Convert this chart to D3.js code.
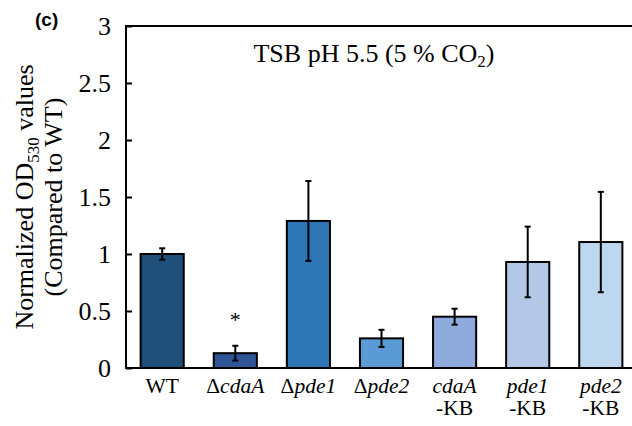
<html>
<head>
<script src="https://d3js.org/d3.v7.min.js"></script>
<style>
body { margin: 0; background: #fff; }
text { font-family: 'Liberation Serif', 'Times New Roman', serif; fill: #000; }
</style>
</head>
<body>
<svg></svg>
<script>

var width = 632;
var height = 426;

// strain names, values and error bars
var strains = ["WT", "ΔcdaA", "Δpde1", "Δpde2", "cdaA-KB", "pde1-KB", "pde2-KB"];
var values = [1.00, 0.13, 1.29, 0.26, 0.45, 0.93, 1.105];
var errors = [0.05, 0.065, 0.35, 0.075, 0.07, 0.31, 0.44];
var colors = ["#1f4e79", "#2f5597", "#2e75b6", "#5b9bd5", "#8faadc", "#b4c7e7", "#bdd7ee"];
var yTicks = [0, 0.5, 1, 1.5, 2, 2.5, 3];
var yTickLabels = ["0", "0.5", "1", "1.5", "2", "2.5", "3"];

var plotLeft = 126, plotTop = 26, plotBottom = 368;

var svg = d3.select("svg").attr("width", width).attr("height", height);

var xScale = d3.scaleBand().domain(strains).range([plotLeft, 637]).paddingInner(0.41).paddingOuter(0.2);
var yScale = d3.scaleLinear().domain([0, 3]).range([plotBottom, plotTop]);
var midY = (plotTop + plotBottom) / 2;

// bars
svg.selectAll("rect.bar").data(strains).enter().append("rect")
  .attr("class", "bar")
  .attr("x", function (d) { return xScale(d); })
  .attr("width", xScale.bandwidth())
  .attr("y", function (d, i) { return yScale(values[i]); })
  .attr("height", function (d, i) { return yScale(0) - yScale(values[i]); })
  .style("fill", function (d, i) { return colors[i]; })
  .style("stroke", "#000")
  .style("stroke-width", 2);

// error bars
var eb = svg.selectAll("g.err").data(strains).enter().append("g").attr("class", "err");
eb.append("line")
  .attr("x1", function (d) { return xScale(d) + xScale.bandwidth() / 2; })
  .attr("x2", function (d) { return xScale(d) + xScale.bandwidth() / 2; })
  .attr("y1", function (d, i) { return yScale(values[i] - errors[i]); })
  .attr("y2", function (d, i) { return yScale(values[i] + errors[i]); });
[-1, 1].forEach(function (s) {
  eb.append("line")
    .attr("x1", function (d) { return xScale(d) + xScale.bandwidth() / 2 - 3; })
    .attr("x2", function (d) { return xScale(d) + xScale.bandwidth() / 2 + 3; })
    .attr("y1", function (d, i) { return yScale(values[i] + s * errors[i]); })
    .attr("y2", function (d, i) { return yScale(values[i] + s * errors[i]); });
});
eb.selectAll("line").style("stroke", "#000").style("stroke-width", 2);

// axes
var yAxis = d3.axisLeft(yScale).tickValues(yTicks).tickSize(-6).tickPadding(15)
  .tickFormat(function (d, i) { return yTickLabels[i]; });
var gy = svg.append("g").attr("transform", "translate(" + plotLeft + ",0)").call(yAxis);
gy.select(".domain").remove();
gy.selectAll(".tick line").style("stroke", "#000").style("stroke-width", 2);
gy.selectAll(".tick text").style("font-size", "26px").style("font-family", "'Liberation Serif', serif");

svg.append("line").attr("x1", plotLeft).attr("x2", plotLeft).attr("y1", plotTop - 1).attr("y2", plotBottom + 1)
  .style("stroke", "#000").style("stroke-width", 2);
svg.append("line").attr("x1", plotLeft).attr("x2", width).attr("y1", plotBottom).attr("y2", plotBottom)
  .style("stroke", "#000").style("stroke-width", 2);
svg.append("line").attr("x1", plotLeft).attr("x2", width).attr("y1", plotTop).attr("y2", plotTop)
  .style("stroke", "#000").style("stroke-width", 2);

// x labels
var xl = svg.selectAll("text.xl").data(strains).enter().append("text")
  .attr("class", "xl")
  .attr("text-anchor", "middle")
  .style("font-size", "21.5px")
  .attr("x", function (d) { return xScale(d) + xScale.bandwidth() / 2; })
  .attr("y", 393);
xl.each(function (d) {
  var t = d3.select(this);
  var cx = t.attr("x");
  if (d === "WT") { t.text(d); return; }
  if (d[0] === "Δ") {
    t.append("tspan").text("Δ");
    t.append("tspan").style("font-style", "italic").text(d.slice(1));
    return;
  }
  var parts = d.split("-");
  t.append("tspan").style("font-style", "italic").text(parts[0]);
  t.append("tspan").attr("x", cx).attr("dy", 22).text("-" + parts[1]);
});

// asterisk
svg.append("text").attr("x", xScale("ΔcdaA") + xScale.bandwidth() / 2).attr("y", 327)
  .attr("text-anchor", "middle").style("font-size", "22px").text("*");

// title
var title = svg.append("text").attr("x", 374).attr("y", 62).attr("text-anchor", "middle")
  .style("font-size", "26px");
title.append("tspan").text("TSB pH 5.5 (5 % CO");
title.append("tspan").attr("dy", 5).style("font-size", "17px").text("2");
title.append("tspan").attr("dy", -5).text(")");

// y label, centred on the plot area
var yl = svg.append("text").attr("transform", "translate(33," + midY + ") rotate(-90)")
  .attr("text-anchor", "middle").style("font-size", "26px");
yl.append("tspan").text("Normalized OD");
yl.append("tspan").attr("dy", 6).style("font-size", "17px").text("530");
yl.append("tspan").attr("dy", -6).text(" values");
svg.append("text").attr("transform", "translate(62," + midY + ") rotate(-90)")
  .attr("text-anchor", "middle").style("font-size", "26px").text("(Compared to WT)");

// panel letter
svg.append("text").attr("x", 35).attr("y", 26)
  .style("font-family", "'Liberation Sans', Arial, sans-serif").style("font-weight", "bold")
  .style("font-size", "19px").text("(c)");

</script>
</body>
</html>
